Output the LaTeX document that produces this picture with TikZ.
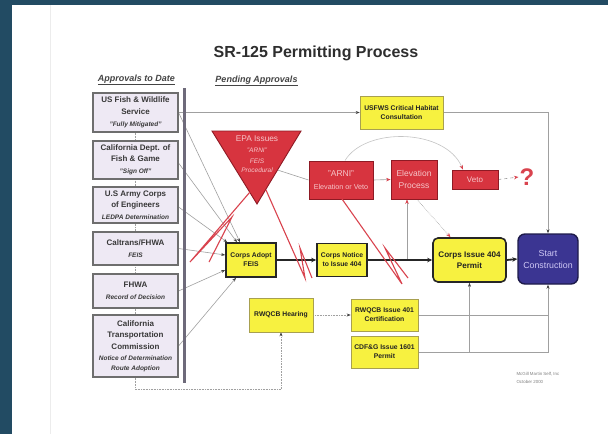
\documentclass[tikz,border=0pt]{standalone}
\usepackage{fontspec}
\setmainfont{Liberation Sans}
\usetikzlibrary{arrows.meta,calc}
\definecolor{bgblue}{HTML}{224B63}
\definecolor{pagefaint}{HTML}{ECECEC}
\definecolor{lfill}{HTML}{EEE9F4}
\definecolor{lborder}{HTML}{6E6E6E}
\definecolor{ltext}{HTML}{383838}
\definecolor{yfill}{HTML}{F7F140}
\definecolor{ythin}{HTML}{A8A050}
\definecolor{ythickc}{HTML}{262626}
\definecolor{ytext}{HTML}{222222}
\definecolor{rfill}{HTML}{D7343F}
\definecolor{rborder}{HTML}{8E1A24}
\definecolor{rtext}{HTML}{F6C6CA}
\definecolor{sfill}{HTML}{3B3592}
\definecolor{sborder}{HTML}{1E1B4A}
\definecolor{stext}{HTML}{CFC8F5}
\definecolor{connc}{HTML}{A0A0A0}
\definecolor{arcc}{HTML}{C4C4C4}
\definecolor{arrc}{HTML}{404040}
\definecolor{redc}{HTML}{D9434E}
\definecolor{barc}{HTML}{6E6A7A}
\definecolor{titlec}{HTML}{2E2E2E}
\definecolor{hdrc}{HTML}{444444}
\pgfdeclarelayer{back}
\pgfdeclarelayer{bg}
\pgfsetlayers{back,bg,main}
\newcommand\litext[1]{{\fontsize{6.5}{8}\selectfont\itshape #1}}
\begin{document}
\begin{tikzpicture}[x=1pt,y=-1pt,
  lbox/.style={draw=lborder,fill=lfill,line width=1.1pt,minimum width=85pt,inner sep=0pt,align=center,text=ltext,font=\fontsize{8}{11.5}\selectfont\bfseries},
  ybox/.style={draw=ythin,fill=yfill,line width=0.6pt,inner sep=0pt,align=center,text=ytext,font=\fontsize{6.8}{9}\selectfont\bfseries},
  ythick/.style={ybox,draw=ythickc,line width=1.6pt},
  rbox/.style={draw=rborder,fill=rfill,line width=0.9pt,inner sep=0pt,align=center,text=rtext,font=\fontsize{8.5}{12}\selectfont},
  conn/.style={draw=connc,line width=0.6pt,-{Stealth[length=4pt,width=3pt,color=arrc]}},
  plain/.style={draw=connc,line width=0.6pt},
  dotconn/.style={draw=connc,line width=0.6pt,densely dotted,-{Stealth[length=4pt,width=3pt,color=arrc]}},
  rconn/.style={draw=connc,line width=0.6pt,-{Stealth[length=4.5pt,width=3.5pt,color=redc]}},
  mainline/.style={draw=ythickc,line width=1.8pt,-{Stealth[length=5pt,width=4.5pt]}},
  bolt/.style={draw=redc,line width=1.1pt,line join=miter}]
\useasboundingbox (0,0) rectangle (608,434);
\begin{pgfonlayer}{back}
\fill[bgblue] (0,0) rectangle (608,434);
\fill[white] (12,5) rectangle (608,434);
\draw[pagefaint,line width=1.2pt] (50.5,5) -- (50.5,434);
\end{pgfonlayer}

% title and headers
\node[font=\fontsize{16}{19}\selectfont\bfseries,text=titlec] (title) at (316,53) {SR-125 Permitting Process};
\node[font=\fontsize{9}{11}\selectfont\bfseries\itshape,text=hdrc] (h1) at (136.5,80) {\underline{Approvals to Date}};
\node[font=\fontsize{9}{11}\selectfont\bfseries\itshape,text=hdrc] (h2) at (256.5,81) {\underline{Pending Approvals}};

% left column
\node[lbox,minimum height=39pt] (b1) at (135.5,112.5) {US Fish \& Wildlife\\Service\\[0.5pt]\litext{"Fully Mitigated"}};
\node[lbox,minimum height=38pt] (b2) at (135.5,160) {California Dept. of\\Fish \& Game\\[0.5pt]\litext{"Sign Off"}};
\node[lbox,minimum height=36pt] (b3) at (135.5,205) {U.S Army Corps\\of Engineers\\[0pt]\litext{LEDPA Determination}};
\node[lbox,minimum height=33pt] (b4) at (135.5,248.5) {Caltrans/FHWA\\[0pt]\litext{FEIS}};
\node[lbox,minimum height=34pt] (b5) at (135.5,291) {FHWA\\[0pt]\litext{Record of Decision}};
\node[lbox,minimum height=62pt] (b6) at (135.5,346) {California\\Transportation\\Commission\\\litext{Notice of Determination}\\[-2pt]\litext{Route Adoption}};
\fill[barc] (183,88) rectangle (186.2,383);

% pending
\node[ybox,minimum width=83pt,minimum height=33pt] (usfws) at (401.5,112.5) {USFWS Critical Habitat\\Consultation};
\fill[rfill,draw=rborder,line width=0.9pt] (212,131) -- (301,131) -- (257,204) -- cycle;
\node[align=center,text=rtext,font=\fontsize{6.5}{8.5}\selectfont\itshape] (epa) at (257,154) {{\fontsize{8.3}{10}\selectfont\upshape EPA Issues}\\[2pt]"ARNI"\\[2.5pt]FEIS\\[0.5pt]Procedural};
\coordinate (epaR) at (277.5,170);
\node[rbox,minimum width=64pt,minimum height=38pt] (arni) at (341,180) {"ARNI"\\[1pt]{\fontsize{7.2}{9}\selectfont Elevation or Veto}};
\node[rbox,minimum width=46pt,minimum height=39pt] (elev) at (414,179.5) {Elevation\\Process};
\node[rbox,minimum width=46pt,minimum height=19pt,font=\fontsize{8}{10}\selectfont] (veto) at (475,179.5) {Veto};
\node[text=redc,font=\fontsize{24}{26}\selectfont\bfseries,inner sep=1pt] (qm) at (527,177) {?};

\node[ythick,minimum width=50pt,minimum height=34pt] (adopt) at (251,260) {Corps Adopt\\FEIS};
\node[ythick,minimum width=50pt,minimum height=33pt] (notice) at (342,260) {Corps Notice\\to Issue 404};
\node[ythick,rounded corners=5pt,minimum width=73pt,minimum height=44pt,font=\fontsize{8.1}{11.5}\selectfont\bfseries] (issue) at (469.5,260) {Corps Issue 404\\Permit};
\node[draw=sborder,fill=sfill,line width=1.4pt,rounded corners=7pt,minimum width=60pt,minimum height=50pt,inner sep=0pt,align=center,text=stext,font=\fontsize{8.8}{12}\selectfont] (start) at (548,259) {Start\\Construction};

\node[ybox,minimum width=64pt,minimum height=34pt] (rwh) at (281,315) {RWQCB Hearing};
\node[ybox,minimum width=67pt,minimum height=32pt] (r401) at (384.5,315) {RWQCB Issue 401\\Certification};
\node[ybox,minimum width=67pt,minimum height=32pt] (cdfg) at (384.5,352) {CDF\&G Issue 1601\\Permit};

\node[anchor=west,align=left,text=gray,font=\fontsize{4.4}{7.5}\selectfont] (credit) at (513,378) {McGill Martin Self, Inc\\October 2000};

% connectors (background)
\begin{pgfonlayer}{bg}
\draw[dotconn] (b1.south) -- (b6.south) -- ++(0,12) -| (rwh.south);
\draw[conn] (b1.east) -- (usfws.west);
\draw[conn] (usfws.east) -| (start.north);
\draw[conn] (b1.east) -- ($(adopt.north)+(-11,0)$);
\draw[conn] ($(b2.east)+(0,3)$) -- ($(adopt.north)+(-14,0)$);
\draw[conn] ($(b3.east)+(0,2)$) -- ($(adopt.north west)+(2,0)$);
\draw[conn] (b4.east) -- ($(adopt.west)+(0,-5)$);
\draw[conn] (b5.east) -- ($(adopt.west)+(0,10)$);
\draw[conn] (b6.east) -- ($(adopt.south)+(-15,0)$);
\draw[plain] (epaR) -- (arni.west);
\draw[rconn,draw=arcc] ($(arni.north)+(4,0)$) .. controls (365,127) and (445,128) .. ($(veto.north)+(-12,0)$);
\draw[rconn] (arni.east) -- (elev.west);
\draw[rconn,dashed] (veto.east) -- (qm.west);
\coordinate (mj) at (407,260);
\draw[rconn] (mj) -- (mj |- elev.south);
\draw[rconn,densely dotted] ($(elev.south)+(3,0)$) -- ($(issue.north)+(-19,0)$);
\draw[dotconn] (rwh.east) -- (r401.west);
\draw[plain] (r401.east) -- (r401.east -| start.south);
\draw[conn] (cdfg.east) -| (start.south);
\draw[conn] (cdfg.east) -| (issue.south);
\end{pgfonlayer}

% main line
\draw[mainline] (adopt.east) -- (notice.west);
\draw[mainline] (notice.east) -- (issue.west);
\draw[mainline] (issue.east) -- (start.west);

% red bolts
\draw[bolt] (250,192) -- (190,262) -- (232,217) -- (209,262);
\draw[bolt] (266,190) -- (305,278) -- (300,248) -- (312,278);
\draw[bolt] (342,199) -- (402,284) -- (385,248) -- (408,278);
\end{tikzpicture}
\end{document}
